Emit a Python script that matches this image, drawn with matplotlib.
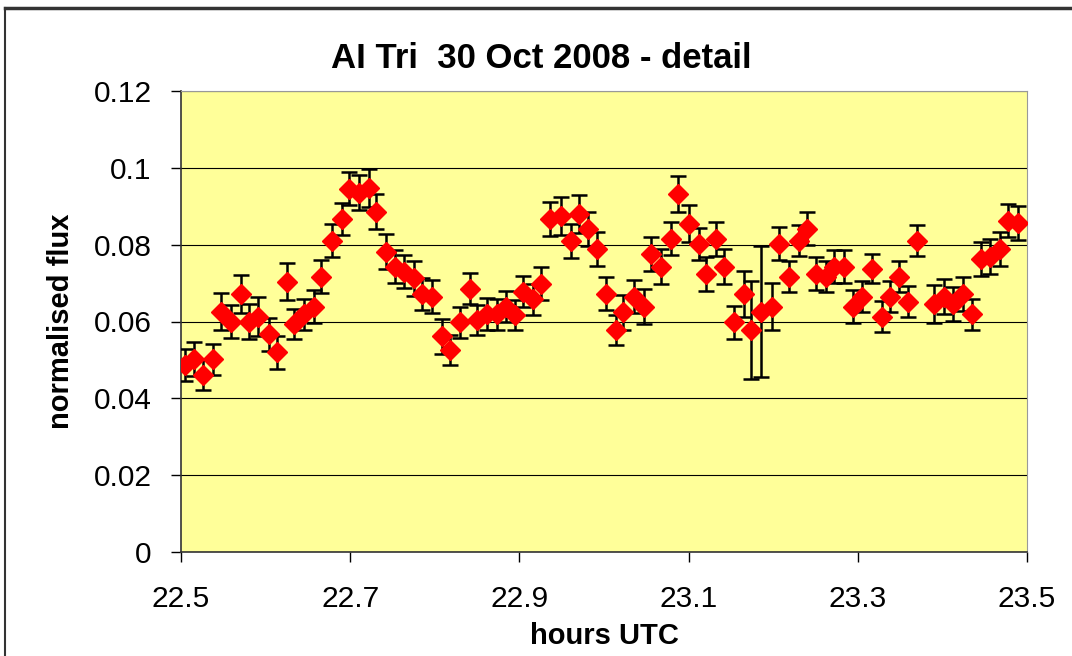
import matplotlib.pyplot as plt
from matplotlib.lines import Line2D

# hours UTC
hours = [22.505, 22.515, 22.526, 22.538, 22.547, 22.559, 22.571, 22.580, 22.591, 22.604,
         22.613, 22.625, 22.634, 22.645, 22.657, 22.666, 22.678, 22.690, 22.699, 22.710,
         22.722, 22.731, 22.742, 22.753, 22.764, 22.775, 22.785, 22.797, 22.809, 22.818,
         22.830, 22.842, 22.850, 22.862, 22.874, 22.884, 22.895, 22.904, 22.916, 22.925,
         22.936, 22.949, 22.961, 22.970, 22.981, 22.992, 23.002, 23.014, 23.023, 23.035,
         23.047, 23.056, 23.067, 23.079, 23.088, 23.100, 23.112, 23.121, 23.132, 23.142,
         23.154, 23.165, 23.174, 23.186, 23.198, 23.207, 23.219, 23.231, 23.240, 23.251,
         23.263, 23.272, 23.284, 23.294, 23.305, 23.317, 23.329, 23.338, 23.349, 23.359,
         23.370, 23.390, 23.402, 23.412, 23.424, 23.435, 23.446, 23.456, 23.468, 23.477,
         23.489]

flux = [0.0487, 0.0502, 0.0461, 0.0502, 0.0626, 0.0600, 0.0672, 0.0600, 0.0613, 0.0567,
        0.0520, 0.0704, 0.0593, 0.0619, 0.0639, 0.0717, 0.0810, 0.0867, 0.0945, 0.0935,
        0.0947, 0.0886, 0.0782, 0.0743, 0.0730, 0.0712, 0.0672, 0.0665, 0.0561, 0.0526,
        0.0598, 0.0685, 0.0604, 0.0619, 0.0619, 0.0639, 0.0617, 0.0678, 0.0658, 0.0698,
        0.0867, 0.0875, 0.0810, 0.0880, 0.0841, 0.0789, 0.0672, 0.0578, 0.0624, 0.0665,
        0.0639, 0.0776, 0.0743, 0.0815, 0.0932, 0.0854, 0.0802, 0.0724, 0.0815, 0.0743,
        0.0598, 0.0672, 0.0578, 0.0626, 0.0639, 0.0802, 0.0717, 0.0810, 0.0841, 0.0724,
        0.0717, 0.0743, 0.0743, 0.0639, 0.0665, 0.0737, 0.0613, 0.0665, 0.0717, 0.0652,
        0.0810, 0.0646, 0.0665, 0.0646, 0.0672, 0.0619, 0.0763, 0.0769, 0.0789, 0.0862,
        0.0856]

flux_err = [0.0042, 0.0045, 0.0039, 0.0040, 0.0049, 0.0042, 0.0049, 0.0046, 0.0050, 0.0043,
            0.0043, 0.0049, 0.0039, 0.0040, 0.0042, 0.0043, 0.0043, 0.0042, 0.0043, 0.0046,
            0.0049, 0.0046, 0.0045, 0.0042, 0.0043, 0.0045, 0.0042, 0.0043, 0.0045, 0.0040,
            0.0040, 0.0040, 0.0040, 0.0042, 0.0040, 0.0040, 0.0040, 0.0040, 0.0040, 0.0043,
            0.0045, 0.0050, 0.0045, 0.0050, 0.0045, 0.0045, 0.0043, 0.0040, 0.0045, 0.0043,
            0.0045, 0.0045, 0.0045, 0.0043, 0.0048, 0.0048, 0.0042, 0.0045, 0.0045, 0.0045,
            0.0043, 0.0060, 0.0128, 0.0171, 0.0060, 0.0043, 0.0040, 0.0040, 0.0043, 0.0043,
            0.0040, 0.0043, 0.0043, 0.0043, 0.0040, 0.0038, 0.0040, 0.0040, 0.0040, 0.0040,
            0.0040, 0.0050, 0.0045, 0.0045, 0.0045, 0.0040, 0.0045, 0.0045, 0.0045, 0.0043,
            0.0045]

plt.rcParams['font.family'] = ['Liberation Sans', 'DejaVu Sans']

fig = plt.figure(figsize=(10.72, 6.56), dpi=100)
ax = fig.add_axes([181/1072, 104/656, 846/1072, 461/656])
ax.set_facecolor('#FFFF99')

ax.errorbar(hours, flux, yerr=flux_err, fmt='D', color='red', markersize=10,
            markeredgecolor='red', ecolor='black', elinewidth=1.8, capsize=6, capthick=1.8,
            zorder=3)

ax.set_xlim(22.5, 23.5)
ax.set_ylim(0, 0.12)
ax.set_xticks([22.5, 22.7, 22.9, 23.1, 23.3, 23.5])
ax.set_xticklabels(['22.5', '22.7', '22.9', '23.1', '23.3', '23.5'])
ax.set_yticks([0, 0.02, 0.04, 0.06, 0.08, 0.1, 0.12])
ax.set_yticklabels(['0', '0.02', '0.04', '0.06', '0.08', '0.1', '0.12'])
ax.yaxis.grid(True, color='black', linewidth=0.8)
ax.set_axisbelow(True)
ax.tick_params(axis='both', labelsize=21.5, length=7, width=1, direction='out')
ax.tick_params(axis='x', pad=17)
ax.tick_params(axis='y', pad=14)

for side in ['top', 'right']:
    ax.spines[side].set_color('#999999')
for side in ['left', 'bottom']:
    ax.spines[side].set_color('#333333')
    ax.spines[side].set_linewidth(1.2)

fig.text(541/1072, 1 - 68/656, 'AI Tri  30 Oct 2008 - detail', fontsize=25,
         fontweight='bold', ha='center', va='baseline')
ax.set_xlabel('hours UTC', fontsize=21, fontweight='bold', va='top')
ax.xaxis.set_label_coords(0.5, -0.152)
ax.set_ylabel('normalised flux', fontsize=21, fontweight='bold')
ax.yaxis.set_label_coords(-0.125, 0.5)

# outer chart frame
fig.add_artist(Line2D([5/1072, 1.0], [1 - 8/656, 1 - 8/656], color='#333333', linewidth=2.5))
fig.add_artist(Line2D([5/1072, 5/1072], [0, 1 - 8/656], color='#333333', linewidth=1.5))

fig.savefig('out.png', dpi=100)
